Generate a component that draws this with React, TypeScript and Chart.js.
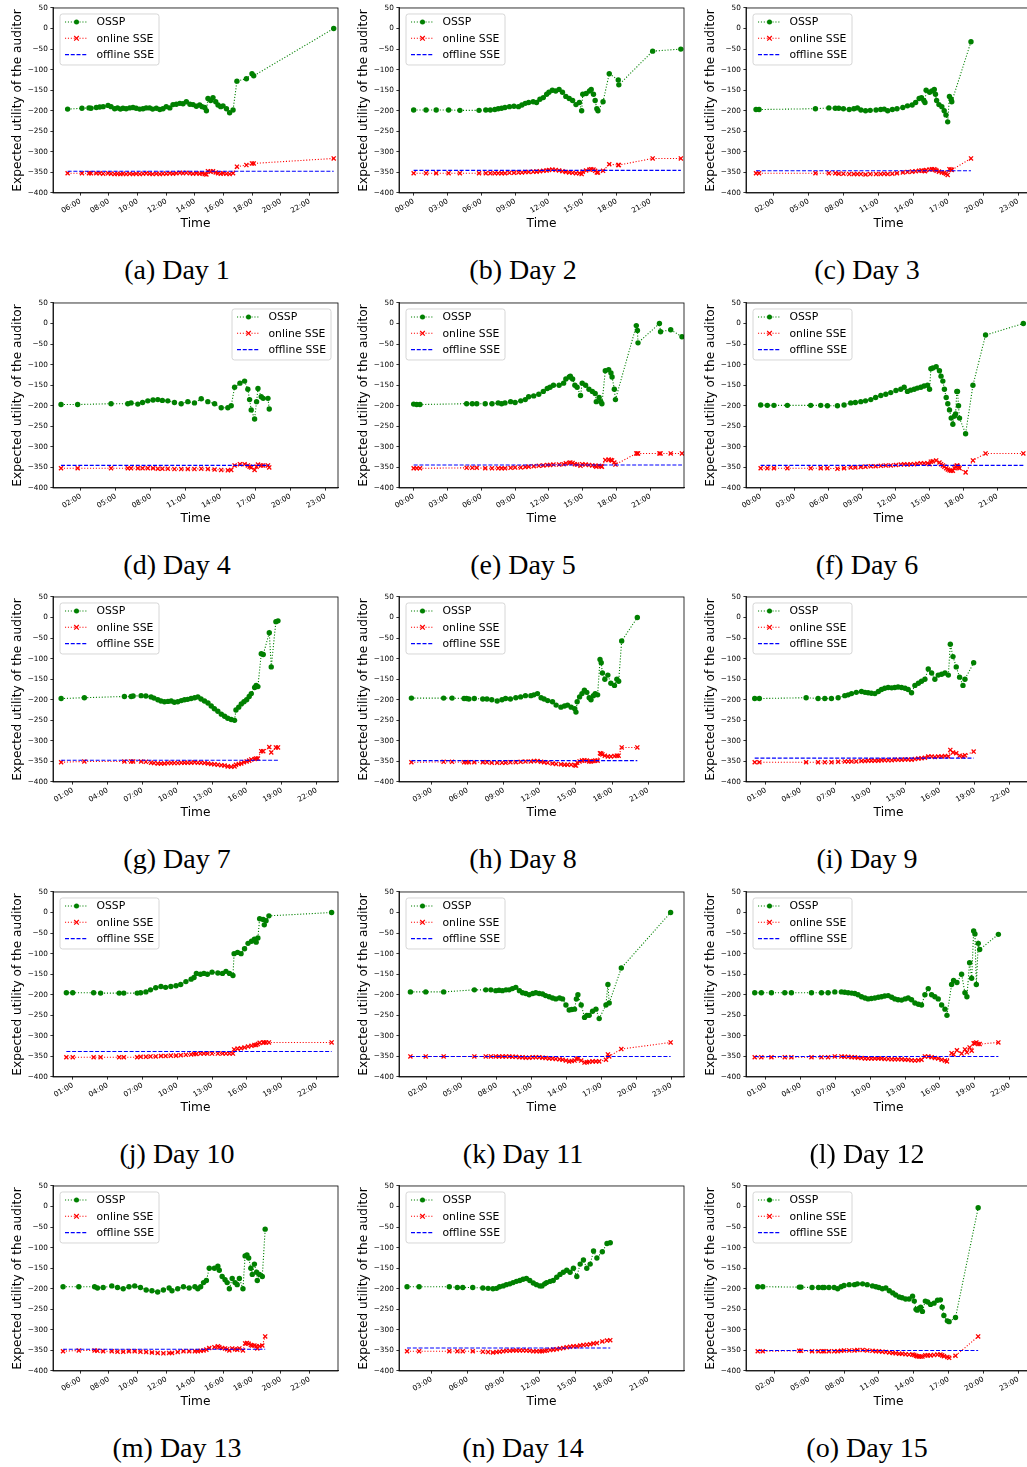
import React, { useEffect, useRef } from "react";
import { Chart, registerables } from "chart.js";

Chart.register(...registerables);

// ---------------- data ----------------
const SERIES_NAMES = ["OSSP", "online SSE", "offline SSE"];
const CAPTIONS = [
  "(a) Day 1", "(b) Day 2", "(c) Day 3", "(d) Day 4", "(e) Day 5",
  "(f) Day 6", "(g) Day 7", "(h) Day 8", "(i) Day 9", "(j) Day 10",
  "(k) Day 11", "(l) Day 12", "(m) Day 13", "(n) Day 14", "(o) Day 15",
];
const Y_TICKS = [-400, -350, -300, -250, -200, -150, -100, -50, 0, 50];

// rows: [hour of day, OSSP, online SSE]
const DAY1 = [
  [5.12, -196, -352], [6.12, -194, -352], [6.61, -193, -352], [6.75, -194, -352], [7.12, -192, -352],
  [7.36, -191, -352], [7.6, -190, -353], [7.94, -187, -352], [8.15, -190, -353], [8.4, -195, -354],
  [8.6, -193, -353], [8.8, -196, -354], [8.98, -194, -353], [9.2, -195, -354], [9.45, -193, -353],
  [9.68, -192, -354], [9.9, -194, -353], [10.15, -196, -354], [10.38, -195, -353], [10.6, -193, -352],
  [10.84, -193, -353], [11.05, -196, -354], [11.31, -194, -353], [11.55, -197, -354], [11.77, -195, -353],
  [12.0, -190, -353], [12.25, -193, -352], [12.47, -185, -353], [12.7, -184, -352], [12.95, -182, -351],
  [13.17, -183, -352], [13.4, -178, -351], [13.65, -184, -352], [13.87, -185, -353], [14.1, -189, -352],
  [14.33, -186, -353], [14.5, -190, -352], [14.68, -192, -354], [14.8, -200, -355], [14.91, -170, -347],
  [15.1, -175, -348], [15.26, -168, -347], [15.45, -178, -350], [15.61, -186, -352], [15.8, -190, -353],
  [15.96, -188, -352], [16.2, -195, -353], [16.42, -205, -354], [16.66, -198, -352], [16.93, -128, -336],
  [17.59, -122, -332], [17.98, -110, -328], [18.1, -115, -328], [23.68, 0, -316],
];
const DAY2 = [
  [0.0, -198, -352], [1.1, -198, -352], [2.0, -198, -352], [3.1, -198, -352], [4.1, -199, -352],
  [5.8, -199, -352], [6.4, -198, -352], [6.8, -198, -352], [7.2, -197, -352], [7.5, -195, -352],
  [7.8, -194, -352], [8.1, -192, -352], [8.5, -190, -351], [8.9, -189, -351], [9.3, -190, -350],
  [9.6, -186, -350], [9.9, -182, -349], [10.2, -180, -349], [10.6, -178, -348], [10.9, -180, -348],
  [11.2, -172, -347], [11.5, -168, -346], [11.8, -160, -345], [12.0, -155, -344], [12.3, -150, -343],
  [12.6, -152, -344], [12.9, -148, -345], [13.2, -155, -347], [13.5, -165, -349], [13.8, -170, -350],
  [14.1, -175, -351], [14.4, -185, -352], [14.7, -180, -352], [14.9, -200, -354], [15.0, -160, -348],
  [15.3, -158, -345], [15.6, -152, -343], [15.75, -148, -342], [15.95, -160, -343], [16.1, -175, -346],
  [16.25, -195, -350], [16.35, -200, -350], [16.8, -178, -346], [17.35, -110, -330], [18.15, -125, -332],
  [18.2, -137, -332], [21.2, -55, -316], [23.7, -50, -316],
];
const DAY3 = [
  [0.5, -197, -352], [0.76, -197, -352], [5.6, -195, -352], [6.75, -193, -352], [7.3, -194, -352],
  [7.6, -194, -353], [8.0, -195, -353], [8.5, -197, -354], [8.9, -195, -354], [9.2, -193, -354],
  [9.5, -198, -354], [9.9, -200, -355], [10.3, -199, -354], [10.8, -198, -354], [11.2, -197, -354],
  [11.5, -196, -353], [11.8, -200, -354], [12.2, -197, -353], [12.6, -195, -352], [13.1, -192, -350],
  [13.5, -188, -349], [13.9, -186, -348], [14.2, -180, -347], [14.5, -170, -346], [14.7, -168, -345],
  [14.9, -175, -346], [15.0, -180, -347], [15.1, -150, -344], [15.4, -155, -343], [15.6, -152, -342],
  [15.8, -148, -342], [15.9, -160, -344], [16.0, -175, -346], [16.2, -185, -348], [16.45, -190, -350],
  [16.65, -200, -351], [16.8, -210, -353], [16.95, -227, -356], [17.1, -165, -342], [17.25, -172, -343],
  [17.3, -178, -344], [18.95, -32, -316],
];
const DAY4 = [
  [0.29, -197, -352], [1.72, -197, -352], [4.59, -195, -352], [6.03, -195, -352], [6.31, -193, -352],
  [6.89, -196, -352], [7.3, -192, -352], [7.75, -188, -352], [8.2, -186, -352], [8.61, -185, -353],
  [9.0, -187, -353], [9.47, -188, -353], [10.04, -192, -354], [10.62, -195, -354], [11.19, -190, -354],
  [11.76, -193, -354], [12.34, -183, -353], [12.91, -190, -354], [13.49, -195, -355], [14.06, -205, -356],
  [14.63, -205, -357], [14.92, -200, -356], [15.21, -155, -345], [15.67, -145, -342], [16.07, -140, -342],
  [16.35, -160, -345], [16.5, -185, -348], [16.64, -210, -350], [16.93, -232, -356], [17.1, -190, -348],
  [17.22, -158, -343], [17.5, -178, -345], [17.67, -182, -345], [18.08, -182, -345], [18.19, -208, -350],
];
const DAY5 = [
  [0, -196, -352], [0.27, -197, -352], [0.56, -197, -352], [4.7, -195, -351], [5.2, -195, -351],
  [5.6, -195, -351], [6.35, -195, -352], [6.95, -195, -352], [7.5, -193, -352], [7.8, -195, -352],
  [8.1, -193, -352], [8.6, -190, -351], [9.0, -192, -350], [9.5, -188, -350], [9.9, -185, -349],
  [10.2, -178, -348], [10.65, -176, -347], [11.1, -172, -346], [11.5, -165, -345], [11.85, -158, -344],
  [12.1, -155, -344], [12.4, -150, -343], [12.9, -150, -343], [13.3, -145, -342], [13.5, -135, -340],
  [13.8, -130, -339], [13.9, -128, -338], [14.1, -135, -339], [14.3, -150, -342], [14.5, -155, -343],
  [14.8, -175, -346], [14.95, -145, -342], [15.25, -150, -343], [15.55, -160, -344], [15.85, -165, -345],
  [16.1, -170, -346], [16.2, -190, -348], [16.45, -180, -346], [16.6, -190, -347], [16.7, -195, -348],
  [17.0, -115, -332], [17.3, -112, -331], [17.5, -120, -332], [17.6, -130, -333], [17.8, -160, -338],
  [17.9, -185, -343], [19.75, -5, -316], [19.85, -17, -316], [19.9, -47, -316], [21.8, 0, -316],
  [21.9, -20, -316], [22.8, -15, -316], [23.8, -32, -316],
];
const DAY6 = [
  [0, -198, -352], [0.59, -199, -352], [1.18, -199, -352], [2.37, -199, -352], [4.44, -199, -352],
  [5.33, -199, -352], [5.92, -200, -352], [6.81, -200, -353], [7.4, -198, -352], [7.99, -193, -350],
  [8.4, -192, -350], [8.88, -190, -349], [9.3, -188, -348], [9.77, -185, -347], [10.2, -180, -347],
  [10.66, -175, -346], [11.1, -172, -345], [11.54, -168, -345], [12.0, -163, -344], [12.43, -160, -343],
  [12.73, -155, -342], [13.02, -165, -343], [13.3, -162, -342], [13.62, -160, -342], [13.9, -157, -341],
  [14.21, -155, -340], [14.5, -152, -340], [14.8, -150, -340], [14.98, -160, -342], [15.1, -110, -336],
  [15.27, -108, -335], [15.57, -105, -333], [15.86, -115, -338], [16.0, -128, -342], [16.16, -140, -345],
  [16.3, -160, -348], [16.46, -180, -352], [16.6, -195, -355], [16.75, -210, -357], [16.9, -230, -358],
  [17.05, -245, -358], [17.2, -225, -352], [17.29, -220, -348], [17.4, -165, -345], [17.46, -165, -346],
  [17.55, -200, -350], [17.64, -230, -352], [18.18, -268, -362], [18.83, -150, -333], [19.95, -28, -316],
  [23.3, 0, -316],
];
const DAY7 = [
  [0, -197, -352], [2.0, -195, -350], [5.45, -192, -350], [6.03, -192, -350], [6.2, -191, -350],
  [6.89, -190, -350], [7.3, -191, -351], [7.75, -193, -353], [8.0, -196, -354], [8.33, -200, -355],
  [8.6, -203, -355], [8.9, -205, -355], [9.2, -204, -354], [9.48, -203, -354], [9.75, -206, -354],
  [10.05, -205, -354], [10.35, -202, -353], [10.63, -200, -353], [10.9, -199, -353], [11.2, -197, -353],
  [11.5, -195, -352], [11.78, -193, -353], [12.05, -198, -353], [12.35, -203, -354], [12.65, -208, -355],
  [12.93, -215, -356], [13.2, -222, -357], [13.5, -228, -358], [13.8, -235, -359], [14.08, -240, -360],
  [14.35, -245, -362], [14.65, -248, -363], [14.94, -250, -362], [15.06, -225, -358], [15.3, -218, -356],
  [15.52, -210, -355], [15.75, -205, -352], [15.98, -200, -350], [16.2, -192, -348], [16.38, -185, -345],
  [16.67, -170, -344], [16.8, -165, -343], [16.95, -168, -343], [17.24, -88, -325], [17.41, -90, -325],
  [17.93, -37, -315], [18.1, -120, -328], [18.5, -10, -316], [18.68, -8, -316],
];
const DAY8 = [
  [1.32, -196, -352], [4.0, -196, -351], [4.7, -196, -351], [5.7, -197, -352], [5.9, -197, -352],
  [6.1, -198, -352], [6.55, -197, -352], [7.25, -198, -352], [7.6, -198, -352], [8.0, -200, -353],
  [8.45, -203, -353], [8.85, -200, -353], [9.15, -197, -353], [9.55, -198, -352], [10.0, -195, -352],
  [10.4, -193, -351], [10.8, -190, -350], [11.25, -190, -350], [11.5, -188, -349], [11.8, -185, -349],
  [12.1, -195, -351], [12.35, -198, -352], [12.65, -202, -353], [13.05, -205, -355], [13.35, -213, -356],
  [13.75, -218, -357], [14.05, -215, -358], [14.3, -213, -358], [14.6, -218, -358], [14.9, -222, -359],
  [15.0, -230, -360], [15.1, -205, -353], [15.3, -193, -350], [15.5, -185, -348], [15.7, -177, -347],
  [15.9, -182, -348], [16.1, -195, -350], [16.25, -200, -350], [16.45, -190, -349], [16.6, -185, -348],
  [16.8, -188, -348], [17.0, -102, -330], [17.1, -110, -331], [17.2, -135, -333], [17.4, -150, -336],
  [17.65, -140, -338], [17.9, -160, -338], [18.2, -165, -337], [18.4, -150, -336], [18.55, -155, -336],
  [18.8, -57, -316], [20.1, 0, -316],
];
const DAY9 = [
  [0.05, -197, -352], [0.45, -197, -352], [4.48, -195, -352], [5.51, -197, -352], [6.09, -197, -352],
  [6.66, -197, -352], [7.24, -195, -351], [7.81, -190, -350], [8.1, -188, -350], [8.39, -185, -350],
  [8.8, -182, -350], [9.25, -180, -349], [9.55, -182, -349], [9.82, -183, -348], [10.1, -184, -348],
  [10.4, -185, -348], [10.7, -180, -348], [10.97, -175, -347], [11.25, -172, -347], [11.55, -170, -347],
  [11.85, -171, -347], [12.12, -170, -346], [12.4, -169, -346], [12.7, -170, -346], [13.0, -172, -345],
  [13.27, -175, -345], [13.56, -183, -346], [13.85, -165, -344], [14.15, -160, -343], [14.42, -155, -342],
  [14.71, -150, -341], [15.0, -125, -338], [15.29, -135, -338], [15.57, -150, -339], [15.86, -140, -338],
  [16.15, -138, -338], [16.44, -135, -337], [16.73, -140, -338], [16.9, -65, -322], [17.13, -95, -328],
  [17.41, -120, -330], [17.7, -145, -336], [17.99, -165, -338], [18.16, -150, -335], [18.91, -110, -326],
];
const DAY10 = [
  [0.45, -195, -352], [1.0, -195, -352], [2.8, -195, -352], [3.4, -196, -352], [5.0, -196, -352],
  [5.4, -196, -352], [6.55, -196, -352], [6.85, -195, -351], [7.3, -193, -351], [7.7, -188, -350],
  [8.15, -183, -350], [8.6, -180, -349], [9.0, -182, -349], [9.45, -180, -348], [9.9, -178, -348],
  [10.3, -175, -347], [10.75, -168, -346], [11.2, -162, -345], [11.45, -158, -344], [11.65, -148, -344],
  [12.0, -150, -343], [12.3, -148, -343], [12.6, -150, -343], [13.0, -145, -343], [13.5, -147, -343],
  [13.9, -148, -343], [14.2, -143, -343], [14.5, -148, -343], [14.8, -153, -343], [14.9, -100, -333],
  [15.2, -97, -331], [15.5, -100, -330], [15.8, -88, -328], [16.1, -75, -326], [16.4, -70, -324],
  [16.65, -65, -322], [16.8, -72, -322], [16.95, -62, -320], [17.1, -15, -317], [17.4, -17, -316],
  [17.5, -30, -316], [17.65, -20, -316], [17.9, -8, -316], [23.3, 0, -316],
];
const DAY11 = [
  [0.58, -193, -350], [1.9, -193, -350], [3.44, -193, -350], [6.08, -188, -350], [7.06, -188, -350],
  [7.5, -188, -350], [7.92, -190, -350], [8.2, -189, -350], [8.49, -190, -350], [8.8, -188, -350],
  [9.07, -188, -350], [9.35, -185, -351], [9.64, -182, -351], [9.95, -190, -352], [10.22, -195, -352],
  [10.5, -197, -353], [10.79, -200, -353], [11.1, -197, -352], [11.36, -195, -352], [11.65, -197, -352],
  [11.94, -198, -353], [12.2, -202, -354], [12.51, -205, -355], [12.8, -208, -355], [13.08, -210, -356],
  [13.4, -208, -357], [13.66, -210, -358], [13.95, -225, -360], [14.23, -237, -362], [14.45, -236, -361],
  [14.69, -235, -360], [14.85, -210, -356], [14.98, -200, -355], [15.26, -225, -360], [15.55, -255, -365],
  [15.75, -250, -364], [15.95, -250, -363], [16.24, -240, -362], [16.53, -235, -362], [16.81, -258, -362],
  [17.39, -225, -358], [17.56, -175, -345], [17.67, -220, -350], [18.71, -135, -332], [22.95, 0, -316],
];
const DAY12 = [
  [0.05, -195, -352], [0.62, -195, -352], [1.49, -195, -352], [2.64, -195, -352], [3.21, -195, -352],
  [4.94, -195, -352], [5.8, -195, -352], [6.37, -195, -352], [6.95, -193, -350], [7.52, -193, -350],
  [7.8, -194, -351], [8.1, -195, -351], [8.4, -196, -352], [8.67, -197, -352], [8.95, -200, -353],
  [9.25, -205, -354], [9.55, -208, -355], [9.82, -210, -355], [10.1, -209, -355], [10.4, -208, -355],
  [10.7, -206, -355], [10.97, -205, -355], [11.25, -203, -356], [11.55, -202, -356], [11.85, -206, -357],
  [12.12, -210, -357], [12.4, -212, -357], [12.7, -213, -357], [13.0, -210, -358], [13.27, -208, -358],
  [13.56, -212, -359], [13.85, -220, -360], [14.15, -223, -359], [14.42, -225, -358], [14.71, -200, -350],
  [15.0, -185, -350], [15.29, -200, -352], [15.57, -205, -354], [15.86, -210, -355], [16.15, -225, -358],
  [16.44, -235, -360], [16.61, -250, -362], [17.01, -175, -342], [17.18, -165, -345], [17.47, -170, -335],
  [17.87, -150, -343], [18.16, -195, -333], [18.33, -205, -340], [18.56, -122, -328], [18.74, -160, -336],
  [18.91, -45, -318], [19.02, -52, -318], [19.14, -175, -316], [19.31, -75, -320], [19.43, -90, -320],
  [21.04, -53, -316],
];
const DAY13 = [
  [4.8, -195, -352], [5.9, -195, -350], [7.0, -195, -350], [7.2, -198, -351], [7.6, -197, -352],
  [8.2, -193, -352], [8.6, -197, -353], [9.0, -200, -353], [9.4, -195, -352], [9.8, -193, -352],
  [10.2, -197, -353], [10.6, -203, -354], [11.0, -205, -355], [11.4, -208, -356], [11.8, -203, -357],
  [12.2, -198, -356], [12.4, -205, -356], [12.8, -200, -354], [13.2, -195, -352], [13.6, -198, -352],
  [14.0, -195, -352], [14.2, -200, -352], [14.4, -195, -351], [14.6, -185, -350], [14.8, -180, -348],
  [15.0, -150, -344], [15.36, -150, -342], [15.6, -145, -340], [15.7, -155, -342], [15.9, -170, -344],
  [16.1, -178, -345], [16.25, -185, -347], [16.4, -200, -350], [16.6, -175, -345], [16.8, -185, -347],
  [16.95, -190, -348], [17.1, -175, -345], [17.35, -200, -350], [17.5, -120, -333], [17.63, -118, -332],
  [17.75, -125, -334], [17.9, -150, -337], [18.0, -165, -338], [18.15, -140, -338], [18.3, -160, -340],
  [18.35, -180, -345], [18.5, -165, -340], [18.7, -170, -338], [18.9, -55, -316],
];
const DAY14 = [
  [0.96, -195, -352], [1.96, -195, -352], [4.47, -195, -352], [5.14, -197, -352], [5.59, -197, -352],
  [6.42, -197, -352], [7.26, -198, -353], [7.7, -199, -354], [8.1, -200, -355], [8.4, -199, -354],
  [8.65, -195, -353], [8.95, -193, -352], [9.21, -190, -351], [9.5, -188, -351], [9.77, -185, -350],
  [10.05, -182, -350], [10.33, -180, -350], [10.6, -177, -350], [10.88, -175, -350], [11.16, -180, -351],
  [11.45, -186, -352], [11.72, -190, -352], [12.0, -193, -352], [12.17, -193, -352], [12.4, -188, -351],
  [12.56, -185, -350], [12.85, -182, -349], [13.11, -180, -348], [13.4, -172, -347], [13.67, -165, -345],
  [13.95, -160, -344], [14.23, -155, -342], [14.51, -160, -341], [14.79, -150, -340], [15.07, -170, -340],
  [15.35, -140, -338], [15.62, -130, -337], [15.9, -150, -336], [16.18, -140, -335], [16.46, -108, -333],
  [16.74, -125, -332], [17.19, -110, -328], [17.58, -90, -326], [17.85, -88, -325],
];
const DAY15 = [
  [0.57, -195, -352], [1.0, -195, -352], [4.15, -196, -351], [4.3, -196, -351], [5.25, -197, -352],
  [5.8, -197, -352], [6.15, -197, -352], [6.3, -197, -352], [6.7, -197, -352], [7.15, -197, -352],
  [7.45, -200, -352], [7.75, -195, -351], [8.0, -192, -350], [8.45, -190, -350], [8.9, -190, -350],
  [9.15, -188, -349], [9.6, -188, -349], [10.0, -190, -350], [10.45, -193, -351], [10.75, -195, -352],
  [11.0, -197, -352], [11.3, -200, -353], [11.6, -198, -354], [11.9, -205, -355], [12.2, -210, -356],
  [12.45, -215, -357], [12.75, -220, -358], [13.0, -222, -358], [13.3, -225, -359], [13.6, -225, -360],
  [13.9, -218, -360], [14.05, -230, -361], [14.2, -250, -363], [14.3, -252, -364], [14.45, -248, -365],
  [14.6, -245, -365], [14.75, -255, -365], [15.0, -230, -362], [15.2, -232, -362], [15.45, -238, -362],
  [15.75, -235, -361], [16.05, -228, -360], [16.3, -227, -360], [16.45, -245, -362], [16.6, -265, -364],
  [16.9, -278, -366], [17.05, -280, -368], [17.6, -270, -363], [19.55, -3, -316],
];

const DAYS = [DAY1, DAY2, DAY3, DAY4, DAY5, DAY6, DAY7, DAY8, DAY9, DAY10, DAY11, DAY12, DAY13, DAY14, DAY15];
const OFFLINE_SSE = [-347, -345, -346, -345, -344, -345, -347, -348, -342, -338, -350, -350, -347, -344, -350];

// tick hours
const TICKS_6_2H = [6, 8, 10, 12, 14, 16, 18, 20, 22];
const TICKS_0_3H = [0, 3, 6, 9, 12, 15, 18, 21];
const TICKS_1_3H = [1, 4, 7, 10, 13, 16, 19, 22];
const TICKS_2_3H = [2, 5, 8, 11, 14, 17, 20, 23];
const TICKS_3_3H = [3, 6, 9, 12, 15, 18, 21];
const DAY_TICKS = [
  TICKS_6_2H, TICKS_0_3H, TICKS_2_3H, TICKS_2_3H, TICKS_0_3H,
  TICKS_0_3H, TICKS_1_3H, TICKS_3_3H, TICKS_1_3H, TICKS_1_3H,
  TICKS_2_3H, TICKS_1_3H, TICKS_6_2H, TICKS_3_3H, TICKS_2_3H,
];
const X_MIN = [4.1, -1.3, -0.36, -0.4, -1.3, -1.3, -0.7, 0.29, -0.7, -0.7, -0.4, -0.7, 4.1, 0.29, -0.44];
const X_MAX = [23.98, 23.98, 24.1, 24.1, 23.98, 23.98, 23.85, 23.98, 23.85, 23.85, 24.1, 23.85, 23.98, 23.98, 24.1];
const LEGEND_AT_RIGHT = [false, false, false, true, false, false, false, false, false, false, false, false, false, false, false];

// ---------------- layout / style ----------------
const GREEN = "#008000";
const RED = "#ff0000";
const BLUE = "#0000ff";
const FONT = "DejaVu Sans";
const COL_FRAME_LEFT = [53, 399, 746];
const ROW_PLOT_TOP = [7, 302, 596, 891, 1185];
const CAPTION_X = [177, 523, 867];
const CAPTION_Y0 = 270;
const ROW_PITCH = 294.6;
const AXIS_W = 53;
const PLOT_W = 285;
const PLOT_H = 186;
const TOP_PAD = 6;
const XAXIS_H = 48;
const CANVAS_W = 348;
const CANVAS_H = TOP_PAD + PLOT_H + XAXIS_H;

const fmtHour = (v: number) => {
  const h = ((Math.round(v) % 24) + 24) % 24;
  return (h < 10 ? "0" : "") + h + ":00";
};
const fmtY = (v: number) => (v < 0 ? "\u2212" + Math.abs(v) : String(v));

const decorPlugin = {
  id: "panelDecor",
  afterDraw(chart: any, _args: any, opts: any) {
    const { ctx, chartArea: a } = chart;
    ctx.save();
    ctx.strokeStyle = "#000";
    ctx.lineWidth = 0.8;
    ctx.setLineDash([]);
    ctx.strokeRect(a.left, a.top, a.right - a.left, a.bottom - a.top);

    const w = 99, h = 51;
    const x0 = opts.right ? a.right - 7 - w : a.left + 7;
    const y0 = a.top + 6;
    ctx.beginPath();
    const r = 2.5;
    ctx.moveTo(x0 + r, y0);
    ctx.lineTo(x0 + w - r, y0);
    ctx.quadraticCurveTo(x0 + w, y0, x0 + w, y0 + r);
    ctx.lineTo(x0 + w, y0 + h - r);
    ctx.quadraticCurveTo(x0 + w, y0 + h, x0 + w - r, y0 + h);
    ctx.lineTo(x0 + r, y0 + h);
    ctx.quadraticCurveTo(x0, y0 + h, x0, y0 + h - r);
    ctx.lineTo(x0, y0 + r);
    ctx.quadraticCurveTo(x0, y0, x0 + r, y0);
    ctx.closePath();
    ctx.fillStyle = "rgba(255,255,255,0.8)";
    ctx.fill();
    ctx.strokeStyle = "#cccccc";
    ctx.lineWidth = 0.8;
    ctx.stroke();

    const colors = [GREEN, RED, BLUE];
    const dashes = [[1.1, 1.8], [1.1, 1.8], [4, 1.75]];
    for (let i = 0; i < 3; i++) {
      const cy = y0 + 8 + i * 16.3;
      const lx0 = x0 + 5, lx1 = x0 + 28, mx = (lx0 + lx1) / 2;
      ctx.strokeStyle = colors[i];
      ctx.lineWidth = 1.1;
      ctx.setLineDash(dashes[i]);
      ctx.beginPath();
      ctx.moveTo(lx0, cy);
      ctx.lineTo(lx1, cy);
      ctx.stroke();
      ctx.setLineDash([]);
      if (i === 0) {
        ctx.fillStyle = GREEN;
        ctx.beginPath();
        ctx.arc(mx, cy, 2.5, 0, Math.PI * 2);
        ctx.fill();
      } else if (i === 1) {
        ctx.strokeStyle = RED;
        ctx.lineWidth = 1.2;
        const d = 2.3;
        ctx.beginPath();
        ctx.moveTo(mx - d, cy - d); ctx.lineTo(mx + d, cy + d);
        ctx.moveTo(mx - d, cy + d); ctx.lineTo(mx + d, cy - d);
        ctx.stroke();
      }
      ctx.fillStyle = "#000";
      ctx.font = `10.8px "${FONT}"`;
      ctx.textAlign = "left";
      ctx.textBaseline = "middle";
      ctx.fillText(SERIES_NAMES[i], x0 + 36.5, cy + 0.5);
    }
    ctx.restore();
  },
};

function Panel({ idx }: { idx: number }) {
  const ref = useRef<HTMLCanvasElement | null>(null);
  useEffect(() => {
    const rows = DAYS[idx];
    const t0 = rows[0][0];
    const t1 = rows[rows.length - 1][0];
    const off = OFFLINE_SSE[idx];
    const ticks = DAY_TICKS[idx];
    const axisCommon = {
      grid: { drawOnChartArea: false, drawTicks: true, tickLength: 2.6, tickWidth: 0.8, tickColor: "#000" },
      border: { display: true, color: "#000", width: 0.8 },
    };
    const chart = new Chart(ref.current as HTMLCanvasElement, {
      type: "line",
      data: {
        datasets: [
          {
            label: SERIES_NAMES[0],
            data: rows.map((r) => ({ x: r[0], y: r[1] })),
            borderColor: GREEN,
            backgroundColor: GREEN,
            borderWidth: 1.1,
            borderDash: [1.1, 1.8],
            pointStyle: "circle",
            pointRadius: 2.7,
            pointBorderWidth: 0,
            pointBackgroundColor: GREEN,
            tension: 0,
            order: 3,
          },
          {
            label: SERIES_NAMES[1],
            data: rows.map((r) => ({ x: r[0], y: r[2] })),
            borderColor: RED,
            backgroundColor: RED,
            borderWidth: 1.1,
            borderDash: [1.1, 1.8],
            pointStyle: "crossRot",
            pointRadius: 2.9,
            pointBorderWidth: 1.3,
            pointBorderColor: RED,
            tension: 0,
            order: 2,
          },
          {
            label: SERIES_NAMES[2],
            data: [{ x: t0, y: off }, { x: t1, y: off }],
            borderColor: BLUE,
            backgroundColor: BLUE,
            borderWidth: 1.1,
            borderDash: [4, 1.75],
            pointRadius: 0,
            tension: 0,
            order: 1,
          },
        ],
      },
      options: {
        responsive: false,
        animation: false,
        devicePixelRatio: 1,
        events: [],
        layout: {
          autoPadding: false,
          padding: { top: TOP_PAD, right: CANVAS_W - AXIS_W - PLOT_W, bottom: 0, left: 0 },
        },
        plugins: {
          legend: { display: false },
          tooltip: { enabled: false },
          panelDecor: { right: LEGEND_AT_RIGHT[idx] },
        } as any,
        scales: {
          x: {
            type: "linear",
            min: X_MIN[idx],
            max: X_MAX[idx],
            afterBuildTicks: (s: any) => {
              s.ticks = ticks.map((v) => ({ value: v }));
            },
            afterFit: (s: any) => {
              s.height = XAXIS_H;
            },
            ...axisCommon,
            ticks: {
              autoSkip: false,
              maxRotation: 30,
              minRotation: 30,
              padding: 1.5,
              color: "#000",
              font: { size: 7.3, family: FONT },
              callback: (v: any) => fmtHour(Number(v)),
            },
            title: {
              display: true,
              text: "Time",
              color: "#000",
              font: { size: 12.2, family: FONT },
              padding: { top: 0, bottom: 9.7 },
            },
          },
          y: {
            type: "linear",
            min: -400,
            max: 50,
            afterBuildTicks: (s: any) => {
              s.ticks = Y_TICKS.map((v) => ({ value: v }));
            },
            afterFit: (s: any) => {
              s.width = AXIS_W;
            },
            ...axisCommon,
            ticks: {
              padding: 2.6,
              color: "#000",
              font: { size: 7.3, family: FONT },
              callback: (v: any) => fmtY(Number(v)),
            },
            title: {
              display: true,
              text: "Expected utility of the auditor",
              color: "#000",
              font: { size: 12.2, family: FONT },
              padding: { top: 10.2, bottom: 0 },
            },
          },
        } as any,
      },
      plugins: [decorPlugin as any],
    });
    return () => chart.destroy();
  }, [idx]);

  const col = idx % 3;
  const row = Math.floor(idx / 3);
  return (
    <canvas
      ref={ref}
      width={CANVAS_W}
      height={CANVAS_H}
      style={{
        position: "absolute",
        left: COL_FRAME_LEFT[col] - AXIS_W,
        top: ROW_PLOT_TOP[row] - TOP_PAD,
        width: CANVAS_W,
        height: CANVAS_H,
      }}
    />
  );
}

export default function App() {
  return (
    <div
      style={{
        position: "absolute",
        left: 0,
        top: 0,
        width: 1027,
        height: 1467,
        overflow: "hidden",
        background: "#fff",
      }}
    >
      {DAYS.map((_, i) => (
        <Panel key={"p" + i} idx={i} />
      ))}
      {CAPTIONS.map((c, i) => (
        <div
          key={"c" + i}
          style={{
            position: "absolute",
            left: CAPTION_X[i % 3],
            top: CAPTION_Y0 + Math.floor(i / 3) * ROW_PITCH,
            transform: "translate(-50%, -50%)",
            fontFamily: '"Liberation Serif", serif',
            fontSize: 28,
            lineHeight: "32px",
            whiteSpace: "nowrap",
            color: "#000",
          }}
        >
          {c}
        </div>
      ))}
    </div>
  );
}
